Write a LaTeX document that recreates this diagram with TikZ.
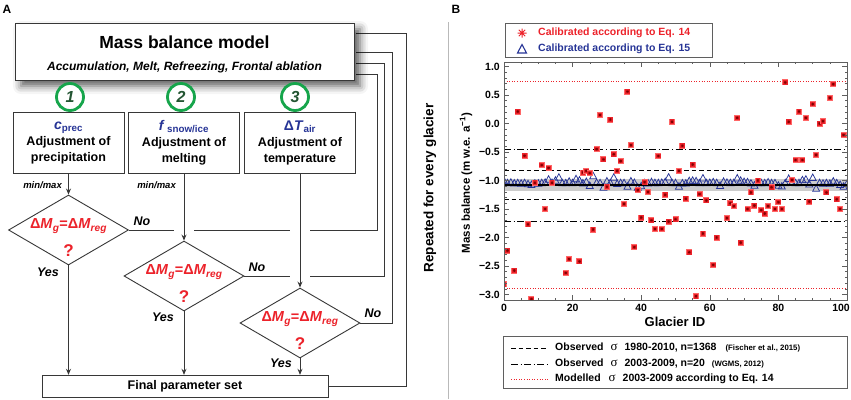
\documentclass[tikz,border=0pt]{standalone}
\usepackage{fontspec}
\setmainfont{Liberation Sans}
\newfontfamily\seriffont{Liberation Serif}
\usetikzlibrary{arrows.meta,shadows.blur,shapes.geometric}
\definecolor{dred}{RGB}{236,34,42}
\definecolor{dblue}{RGB}{38,52,150}
\definecolor{cgreen}{RGB}{22,165,75}
\definecolor{ngreen}{RGB}{35,85,50}
\definecolor{lgray}{RGB}{55,55,55}
\definecolor{fgray}{RGB}{95,95,95}
\newcommand{\fsz}[1]{\fontsize{#1}{#1}\selectfont}
\tikzset{
  conn/.style={draw=lgray, line width=0.9pt},
  arr/.style={conn, -{Stealth[length=6pt,width=5pt]}},
  stepbox/.style={draw=lgray, line width=0.9pt, fill=white, minimum width=111pt, minimum height=61.5pt, inner sep=0pt, align=center, font=\bfseries\fontsize{12.5}{16}\selectfont},
  decbox/.style={draw=lgray, line width=0.9pt, fill=white, diamond, minimum width=120pt, minimum height=70pt, inner sep=0pt},
  numcirc/.style={circle, draw=cgreen, line width=2.8pt, fill=white, minimum size=27pt, inner sep=0pt, font=\bfseries\itshape\fsz{16}, text=ngreen},
  yesno/.style={font=\bfseries\itshape\fsz{12.5}, inner sep=0pt},
  formula/.style={font=\bfseries\fsz{14.5}, text=dred, inner sep=0pt},
  qmark/.style={font=\bfseries\fsz{17}, text=dred, inner sep=0pt},
  minmax/.style={font=\bfseries\itshape\fsz{9.5}, inner sep=0pt, anchor=east},
  ticklab/.style={font=\bfseries\fsz{10.5}, inner sep=0pt},
  legtext/.style={font=\bfseries\fsz{10.5}, inner sep=0pt, anchor=west},
  plotline/.style={line width=0.9pt},
}
\begin{document}
\begin{tikzpicture}[x=1pt,y=-1pt]
\useasboundingbox (0,0) rectangle (851,399);

% ---------------- Panel A ----------------
\node[font=\bfseries\fsz{12}, inner sep=0pt] (labA) at (7,9) {A};

\coordinate (l1) at (377,74);
\coordinate (l2) at (384,63);
\coordinate (l3) at (392,52);
\coordinate (l4) at (406,33);

% step boxes
\node[stepbox] (box1) at (68.5,142.75) {{\color{dblue}\fsz{14}\textit{c}\textsubscript{prec}}\\Adjustment of\\precipitation};
\node[stepbox] (box2) at (184,142.75) {{\color{dblue}\fsz{14}\textit{f}\,\textsubscript{snow/ice}}\\Adjustment of\\melting};
\node[stepbox] (box3) at (300,142.75) {{\color{dblue}\fsz{14}Δ\textit{T}\textsubscript{air}}\\Adjustment of\\temperature};

% diamonds
\node[decbox] (d1) at (68.5,230) {};
\node[decbox] (d2) at (184,276) {};
\node[decbox] (d3) at (300,323) {};
\foreach \d in {d1,d2,d3}{
  \node[formula] (\d f) at ([yshift=4pt]\d.center) {Δ\textit{M}\textsubscript{\textit{g}}=Δ\textit{M}\textsubscript{\textit{reg}}};
  \node[qmark] (\d q) at ([yshift=-21pt]\d.center) {?};
}

% final box
\node[draw=lgray, line width=0.9pt, fill=white, minimum width=286pt, minimum height=22.5pt, inner sep=0pt, font=\bfseries\fsz{12.5}] (final) at (185,386.5) {Final parameter set};

% arrows down
\draw[arr] (box1.south) -- (d1.north);
\draw[arr] (box2.south) -- (d2.north);
\draw[arr] (box3.south) -- (d3.north);
\draw[arr] (d1.south) -- (d1.south |- final.north);
\draw[arr] (d2.south) -- (d2.south |- final.north);
\draw[arr] (d3.south) -- (d3.south |- final.north);

% No loops (with gaps at crossings)
\draw[conn] (d1.east) -- ([xshift=-10pt]box2.south |- d1.east);
\draw[conn] ([xshift=10pt]box2.south |- d1.east) -- ([xshift=-10pt]box3.south |- d1.east);
\draw[conn] ([xshift=10pt]box3.south |- d1.east) -| (l1) -- (l1 -| box3.east);
\draw[conn] (d2.east) -- ([xshift=-10pt]box3.south |- d2.east);
\draw[conn] ([xshift=10pt]box3.south |- d2.east) -| (l2) -- (l2 -| box3.east);
\draw[conn] (d3.east) -| (l3) -- (l3 -| box3.east);
\draw[conn] (final.east) -| (l4) -- (l4 -| box3.east);

% main model box (drawn on top of loop ends)
\node[draw=lgray, line width=0.9pt, fill=white, minimum width=339pt, minimum height=57pt, inner sep=0pt,
  blur shadow={shadow xshift=6pt, shadow yshift=-6pt, shadow blur radius=8pt, shadow opacity=65}] (main) at (184.5,51.5) {};
\node[font=\bfseries\fsz{17.5}, inner sep=0pt] (mtitle) at (184.5,42) {Mass balance model};
\node[font=\bfseries\itshape\fsz{12}, inner sep=0pt] (msub) at (184.5,67) {Accumulation, Melt, Refreezing, Frontal ablation};

% numbered circles
\node[numcirc] (c1) at (70,97) {1};
\node[numcirc] (c2) at (181,97) {2};
\node[numcirc] (c3) at (295,97) {3};

% labels
\node[minmax] (mm1) at (62,185) {min/max};
\node[minmax] (mm2) at (176,185) {min/max};
\node[yesno] (no1) at (142,221) {No};
\node[yesno] (no2) at (257,267) {No};
\node[yesno] (no3) at (373,313) {No};
\node[yesno] (yes1) at (48,272) {Yes};
\node[yesno] (yes2) at (163,317) {Yes};
\node[yesno] (yes3) at (281,363) {Yes};

% separator and vertical text
\node[rotate=90, font=\bfseries\fsz{13.5}, inner sep=0pt] (rep) at (430,188) {Repeated for every glacier};
\coordinate (sepT) at (448,22);
\coordinate (sepB) at (448,399);
\draw[gray!55, line width=1pt] (sepT) -- (sepB);

% ---------------- Panel B ----------------
\node[font=\bfseries\fsz{12}, inner sep=0pt] (labB) at (456,9) {B};

% top legend
\node[draw=fgray, line width=0.8pt, minimum width=207pt, minimum height=34pt, inner sep=0pt] (leg1) at (608.5,40) {};
\coordinate (ast) at (522,33);
\draw[dred, line width=1pt] (ast) +(-4.5pt,0) -- +(4.5pt,0) +(0,-4.5pt) -- +(0,4.5pt) +(-3.2pt,-3.2pt) -- +(3.2pt,3.2pt) +(-3.2pt,3.2pt) -- +(3.2pt,-3.2pt);
\node[legtext, text=dred] (lt1) at (538,33) {Calibrated according to Eq. 14};
\coordinate (tri) at (522,49);
\draw[dblue, line width=1.1pt, line join=miter] (tri) ++(-4.5pt,-4pt) -- ++(9pt,0) -- ++(-4.5pt,8.5pt) -- cycle;
\node[legtext, text=dblue] (lt2) at (538,49) {Calibrated according to Eq. 15};

\begin{scope}[shift={(504,123.5)}, x=3.43pt, y=57pt]
  \begin{scope}
    \clip (0,-3.105) rectangle (100,1.08);
    \fill[gray!40] (0,-1.18) rectangle (100,-0.975);
    \draw[plotline, dash pattern=on 4.5pt off 3pt] (0,-0.83) -- (100,-0.83) (0,-1.33) -- (100,-1.33);
    \draw[plotline, dash pattern=on 7pt off 2.5pt on 1.2pt off 2.5pt] (0,-0.45) -- (100,-0.45) (0,-1.71) -- (100,-1.71);
    \draw[dred, line width=0.9pt, dash pattern=on 1pt off 1.6pt] (0,0.74) -- (100,0.74) (0,-2.89) -- (100,-2.89);
    \pgfmathsetseed{11}
    \foreach \i in {0,...,100}{
      \pgfmathsetmacro\r{rand}
      \pgfmathsetmacro\vv{-1.04+0.13*\r*\r*\r}
      \draw[dblue, line width=0.75pt] (\i,\vv) ++(-3.5pt,-3pt) -- ++(7pt,0) -- ++(-3.5pt,6.5pt) -- cycle;
    }
    \draw[black, line width=1.3pt] (0,-1.08) -- (100,-1.08);
    \foreach \x/\v in {0/-2.82,1/-2.23,3/-2.58,4/0.21,6/-0.565,7/-1.77,8/-3.08,9/-1.04,11/-0.73,12/-1.5,13/-0.78,14/-1.04,
      18/-2.62,19/-2.38,22/-2.42,23/-0.86,24/-0.83,25/-0.87,26/-1.86,27/-0.45,28/0.15,29/-0.63,30/-1.11,31/0.07,32/-0.54,33/-0.83,34/-0.66,
      35/-1.41,36/0.56,37/-0.38,38/-2.17,39/-1.17,40/-1.65,41/-1.03,42/-1.2,43/-1.7,44/-1.85,45/-0.57,46/-1.85,47/-1.25,48/-1.72,
      49/0.03,50/-1.68,51/-0.83,52/-0.39,53/-1.32,54/-2.26,55/-0.72,56/-3.03,57/-1.24,58/-1.93,59/-1.35,61/-2.48,62/-2.0,65/-1.66,
      66/-1.4,67/-1.45,68/0.1,69/-2.09,71/-1.5,72/-1.21,73/-1.44,74/-1.0,75/-1.52,76/-1.58,77/-1.45,78/-1.12,79/-1.5,80/-1.38,
      81/-1.5,82/0.72,83/0.03,84/-0.99,85/-0.64,86/0.21,87/-0.64,88/0.1,89/-1.37,90/0.34,91/-0.55,92/0.0,93/0.04,94/-1.21,95/0.45,
      96/0.69,97/-1.33,98/-1.5,99/-0.2}{
      \fill[red!60!white] (\x,\v) ++(-3pt,-3pt) rectangle ++(6pt,6pt);
      \fill[dred] (\x,\v) ++(-2.3pt,-2.3pt) rectangle ++(4.6pt,4.6pt);
      \draw[red!50!black, line width=0.45pt] (\x,\v) +(-1.4pt,0) -- +(1.4pt,0) +(0,-1.4pt) -- +(0,1.4pt) +(-1pt,-1pt) -- +(1pt,1pt) +(-1pt,1pt) -- +(1pt,-1pt);
    }
  \end{scope}
  % frame
  \draw[fgray, line width=0.8pt] (0,-3.105) rectangle (100,1.08);
  % y ticks
  \foreach \k in {1,...,41}{
    \pgfmathsetmacro\v{-3.1+0.1*\k}
    \draw[fgray, line width=0.5pt] (0,\v) -- ++(2.5pt,0) (100,\v) -- ++(-2.5pt,0);
  }
  \foreach \v in {-3,-2.5,...,1}{
    \draw[fgray, line width=0.6pt] (0,\v) -- ++(5pt,0) (100,\v) -- ++(-5pt,0);
  }
  \foreach \x in {5,10,...,95}{
    \draw[fgray, line width=0.5pt] (\x,-3.105) -- ++(0,2.5pt) (\x,1.08) -- ++(0,-2.5pt);
  }
  \foreach \x in {20,40,60,80}{
    \draw[fgray, line width=0.6pt] (\x,-3.105) -- ++(0,5pt) (\x,1.08) -- ++(0,-5pt);
  }
  \foreach \v/\t [count=\k] in {1/1.0,0.5/0.5,0/0.0,-0.5/−0.5,-1/−1.0,-1.5/−1.5,-2/−2.0,-2.5/−2.5,-3/−3.0}{
    \node[ticklab, anchor=east] (yt\k) at ([xshift=-4pt]0,\v) {\t};
  }
  \foreach \x [count=\k] in {0,20,40,60,80}{
    \node[ticklab, anchor=north] (xt\k) at ([yshift=-3pt]\x,-3.105) {\x};
  }
  \node[ticklab, anchor=north east] (xt6) at ([yshift=-3pt,xshift=3pt]100,-3.105) {100};
\end{scope}

\node[font=\bfseries\fsz{13}, inner sep=0pt] (xlab) at (675,322) {Glacier ID};
\node[rotate=90, font=\bfseries\fsz{11.5}, inner sep=0pt] (ylab) at (466,183) {Mass balance (m w.e. a\textsuperscript{−1})};

% bottom legend
\node[draw=fgray, line width=0.8pt, minimum width=344pt, minimum height=52pt, inner sep=0pt] (leg2) at (675,362) {};
\coordinate (s1a) at (511,348); \coordinate (s1b) at (548,348);
\coordinate (s2a) at (511,364); \coordinate (s2b) at (548,364);
\coordinate (s3a) at (511,379); \coordinate (s3b) at (548,379);
\draw[plotline, dash pattern=on 4.5pt off 3pt] (s1a) -- (s1b);
\draw[plotline, line width=0.7pt, dash pattern=on 7pt off 2.5pt on 1.2pt off 2.5pt] (s2a) -- (s2b);
\draw[dred, line width=0.8pt, dash pattern=on 1pt off 1.6pt] (s3a) -- (s3b);
\node[legtext] (bl1) at (555,348) {Observed\hspace{7pt}{\seriffont\mdseries\fsz{13}σ}\hspace{7pt}1980-2010, n=1368\hspace{9pt}{\fsz{7.8}(Fischer et al., 2015)}};
\node[legtext] (bl2) at (555,364) {Observed\hspace{7pt}{\seriffont\mdseries\fsz{13}σ}\hspace{7pt}2003-2009, n=20\hspace{7pt}{\fsz{7.8}(WGMS, 2012)}};
\node[legtext] (bl3) at (555,379) {Modelled\hspace{8pt}{\seriffont\mdseries\fsz{13}σ}\hspace{7pt}2003-2009 according to Eq. 14};

\end{tikzpicture}
\end{document}
